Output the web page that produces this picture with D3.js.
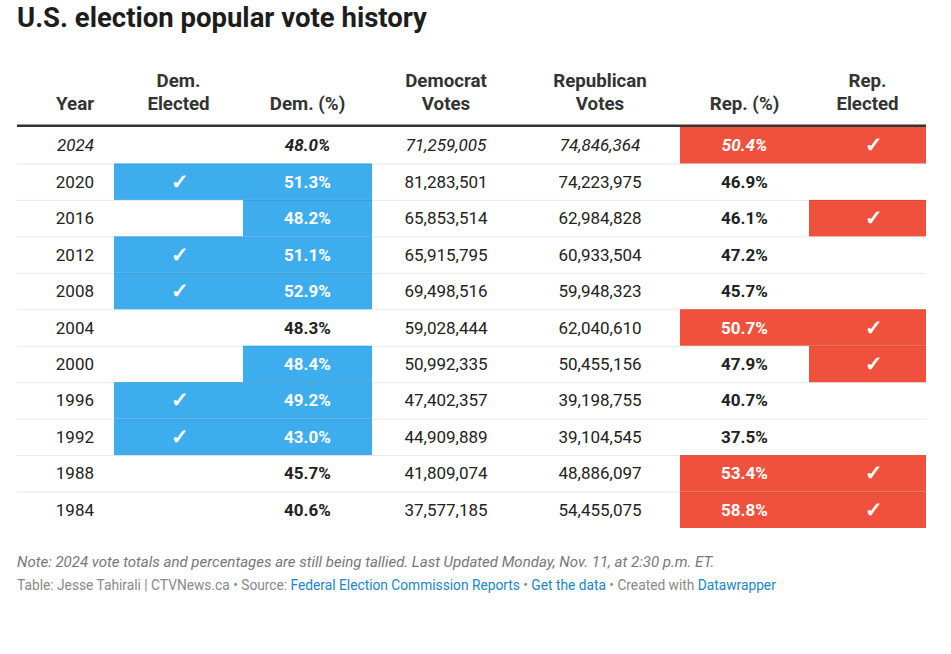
<!DOCTYPE html>
<html><head><meta charset="utf-8">
<script src="https://cdn.jsdelivr.net/npm/d3@7"></script>
<style>
html,body{margin:0;padding:0;background:#fff;}
svg{display:block;font-family:Roboto,sans-serif;}
</style></head>
<body>
<svg id="chart" width="951" height="654"></svg>
<script>
const years = ["2024","2020","2016","2012","2008","2004","2000","1996","1992","1988","1984"];
const demElected = [false,true,false,true,true,false,false,true,true,false,false];
const demPct = [48.0,51.3,48.2,51.1,52.9,48.3,48.4,49.2,43.0,45.7,40.6];
const demVotes = [71259005,81283501,65853514,65915795,69498516,59028444,50992335,47402357,44909889,41809074,37577185];
const repVotes = [74846364,74223975,62984828,60933504,59948323,62040610,50455156,39198755,39104545,48886097,54455075];
const repPct = [50.4,46.9,46.1,47.2,45.7,50.7,47.9,40.7,37.5,53.4,58.8];
const repElected = [true,false,true,false,false,true,true,false,false,true,true];
const preliminary = [true,false,false,false,false,false,false,false,false,false,false];
const headers = [["","Year"],["Dem.","Elected"],["","Dem. (%)"],["Democrat","Votes"],["Republican","Votes"],["","Rep. (%)"],["Rep.","Elected"]];

const BLUE = "#3eadee", RED = "#f0513d";
const svg = d3.select("#chart");
const fmt = d3.format(",");
const pfmt = d3.format(".1f");

const colEdges = [17,114,243,372,520,680,809,926];
const y = d3.scaleBand().domain(years).range([127,528]);

svg.append("text").attr("x",17).attr("y",27).attr("font-size",27.5).attr("font-weight",700).attr("fill","#1d1d1d").text("U.S. election popular vote history");

headers.forEach((h,i)=>{
  const cx = i===0 ? colEdges[1]-20 : (colEdges[i]+colEdges[i+1])/2;
  const anchor = i===0 ? "end" : "middle";
  h.forEach((line,j)=>{
    if(!line) return;
    svg.append("text").attr("x",cx).attr("y",87+j*23).attr("text-anchor",anchor)
      .attr("font-size",18.7).attr("font-weight",700).attr("fill","#333").text(line);
  });
});

const rows = svg.append("g").selectAll("g").data(years).join("g");
rows.each(function(yr,i){
  const g = d3.select(this);
  const top = y(yr), bh = y.bandwidth(), mid = top+bh/2+6;
  const demWinPop = demPct[i] > repPct[i];
  const repWinPop = repPct[i] > demPct[i];
  const cell = (c,color)=> g.append("rect").attr("x",colEdges[c]).attr("y",top).attr("width",colEdges[c+1]-colEdges[c]).attr("height",bh).attr("fill",color);
  if(demElected[i]) cell(1,BLUE);
  if(demWinPop) cell(2,BLUE);
  if(repWinPop) cell(5,RED);
  if(repElected[i]) cell(6,RED);
  if(i>0) g.append("line").attr("x1",17).attr("x2",926).attr("y1",top+0.5).attr("y2",top+0.5).attr("stroke","rgba(0,0,0,0.09)").attr("stroke-width",1);
  const style = preliminary[i] ? "italic" : "normal";
  const t = (c,txt,opts={})=>{
    const cx = c===0 ? colEdges[1]-20 : (colEdges[c]+colEdges[c+1])/2;
    g.append("text").attr("x",cx+(opts.dx||0)).attr("y",mid+(opts.dy||0)).attr("text-anchor",c===0?"end":"middle")
      .attr("font-size",opts.size||17).attr("font-style",opts.style||style).attr("font-weight",opts.bold?700:400)
      .attr("fill",opts.fill||"#222").text(txt);
  };
  t(0,yr);
  if(demElected[i]) t(1,"✓",{fill:"#fff",bold:true,size:21,style:"normal",dx:1.5,dy:1});
  t(2,pfmt(demPct[i])+"%",{bold:true,fill:demWinPop?"#fff":"#222"});
  t(3,fmt(demVotes[i]));
  t(4,fmt(repVotes[i]));
  t(5,pfmt(repPct[i])+"%",{bold:true,fill:repWinPop?"#fff":"#222"});
  if(repElected[i]) t(6,"✓",{fill:"#fff",bold:true,size:21,style:"normal",dx:6,dy:1});
});

svg.append("rect").attr("x",17).attr("y",124.5).attr("width",909).attr("height",2.5).attr("fill","#333");

svg.append("text").attr("x",17).attr("y",567).attr("font-size",15).attr("font-style","italic").attr("fill","#777")
  .text("Note: 2024 vote totals and percentages are still being tallied. Last Updated Monday, Nov. 11, at 2:30 p.m. ET.");
const src = svg.append("text").attr("x",17).attr("y",590).attr("font-size",13.75).attr("fill","#888");
const parts = [["Table: Jesse Tahirali | CTVNews.ca • Source: ","#888"],["Federal Election Commission Reports","#1b85c7"],[" • ","#888"],["Get the data","#1b85c7"],[" • Created with ","#888"],["Datawrapper","#1b85c7"]];
parts.forEach(p=>src.append("tspan").attr("fill",p[1]).text(p[0]));
</script>
</body></html>
